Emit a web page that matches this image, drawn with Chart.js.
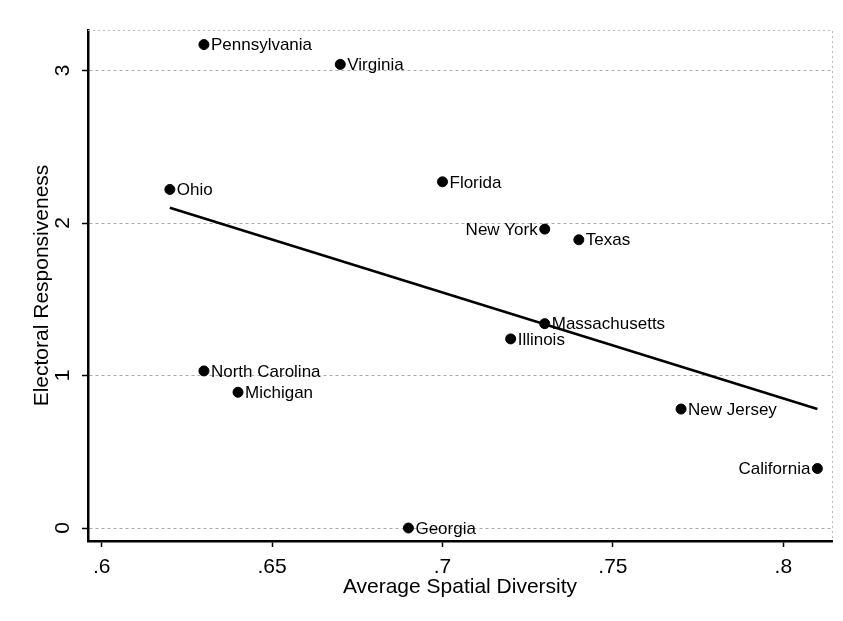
<!DOCTYPE html>
<html>
<head>
<meta charset="utf-8">
<script src="https://cdn.jsdelivr.net/npm/chart.js@4"></script>
<style>
  html, body { margin: 0; padding: 0; background: #fff; }
</style>
</head>
<body>
<canvas id="scatter" width="843" height="621"></canvas>
<script>
// state points
const states = ["Pennsylvania", "Virginia", "Ohio", "Florida", "New York", "Texas", "Massachusetts",
  "Illinois", "North Carolina", "Michigan", "New Jersey", "California", "Georgia"];
const diversity = [0.63, 0.67, 0.62, 0.70, 0.73, 0.74, 0.73, 0.72, 0.63, 0.64, 0.77, 0.81, 0.69];
const responsiveness = [3.17, 3.04, 2.22, 2.27, 1.96, 1.89, 1.34, 1.24, 1.03, 0.89, 0.78, 0.39, 0.00];

// fitted line
const fitX = [0.62, 0.81];
const fitY = [2.10, 0.78];

// axis ticks
const xTicks = [0.6, 0.65, 0.7, 0.75, 0.8];
const yTicks = [0, 1, 2, 3];

const FONT = "'Liberation Sans', Arial, Helvetica, sans-serif";
const leftLabels = new Set(["New York", "California"]);

const pointLabels = {
  id: "pointLabels",
  afterDatasetsDraw(chart) {
    const ctx = chart.ctx;
    const meta = chart.getDatasetMeta(1);
    ctx.save();
    ctx.font = "17px " + FONT;
    ctx.fillStyle = "#000";
    ctx.textBaseline = "middle";
    meta.data.forEach((pt, i) => {
      const name = states[i];
      if (leftLabels.has(name)) {
        ctx.textAlign = "right";
        ctx.fillText(name, pt.x - 7, pt.y + 1);
      } else {
        ctx.textAlign = "left";
        ctx.fillText(name, pt.x + 7, pt.y + 1);
      }
    });
    ctx.restore();
  }
};

// faint dotted frame on top and right of the plot region
const frame = {
  id: "frame",
  beforeDatasetsDraw(chart) {
    const {ctx, chartArea: a} = chart;
    ctx.save();
    ctx.strokeStyle = "#bbb";
    ctx.lineWidth = 1;
    ctx.setLineDash([2, 3]);
    ctx.beginPath();
    ctx.moveTo(a.left, a.top + 0.5);
    ctx.lineTo(a.right + 0.5, a.top + 0.5);
    ctx.lineTo(a.right + 0.5, a.bottom);
    ctx.stroke();
    ctx.restore();
  }
};

new Chart(document.getElementById("scatter").getContext("2d"), {
  type: "scatter",
  data: {
    datasets: [
      {
        type: "line",
        data: fitX.map((x, i) => ({x: x, y: fitY[i]})),
        borderColor: "#000",
        borderWidth: 2.5,
        pointRadius: 0,
        fill: false,
        tension: 0
      },
      {
        data: diversity.map((x, i) => ({x: x, y: responsiveness[i]})),
        backgroundColor: "#000",
        borderColor: "#000",
        pointRadius: 5,
        pointHoverRadius: 5
      }
    ]
  },
  options: {
    responsive: false,
    animation: false,
    devicePixelRatio: 1,
    layout: { padding: { left: 0, top: 30, right: 11, bottom: 0 } },
    plugins: { legend: { display: false }, tooltip: { enabled: false } },
    scales: {
      x: {
        type: "linear",
        min: 0.59598,
        max: 0.81429,
        afterBuildTicks: s => { s.ticks = xTicks.map(v => ({value: v})); },
        afterFit: s => { s.height = 80; },
        grid: { drawOnChartArea: false, tickLength: 6, tickColor: "#000", tickWidth: 1.5 },
        border: { color: "#000", width: 2.5 },
        ticks: {
          color: "#000",
          font: { family: FONT, size: 21 },
          padding: 8,
          maxRotation: 0,
          callback: v => String(v).replace(/^0/, "")
        },
        title: {
          display: true,
          text: "Average Spatial Diversity",
          color: "#000",
          font: { family: FONT, size: 21 },
          padding: { top: 0, bottom: 21 }
        }
      },
      y: {
        type: "linear",
        min: -0.0852,
        max: 3.2656,
        afterBuildTicks: s => { s.ticks = yTicks.map(v => ({value: v})); },
        afterFit: s => { s.width = 88; },
        grid: { color: "#aaa", lineWidth: 1, tickLength: 6, tickColor: "#000", tickWidth: 1.5, tickBorderDash: [] },
        border: { color: "#000", width: 2.5, dash: [3, 3] },
        ticks: {
          color: "#000",
          font: { family: FONT, size: 21 },
          padding: 13,
          minRotation: 90,
          maxRotation: 90,
          crossAlign: "center",
          callback: v => String(v)
        },
        title: {
          display: true,
          text: "Electoral Responsiveness",
          color: "#000",
          font: { family: FONT, size: 21 },
          padding: { top: 30, bottom: 0 }
        }
      }
    }
  },
  plugins: [frame, pointLabels]
});
</script>
</body>
</html>
